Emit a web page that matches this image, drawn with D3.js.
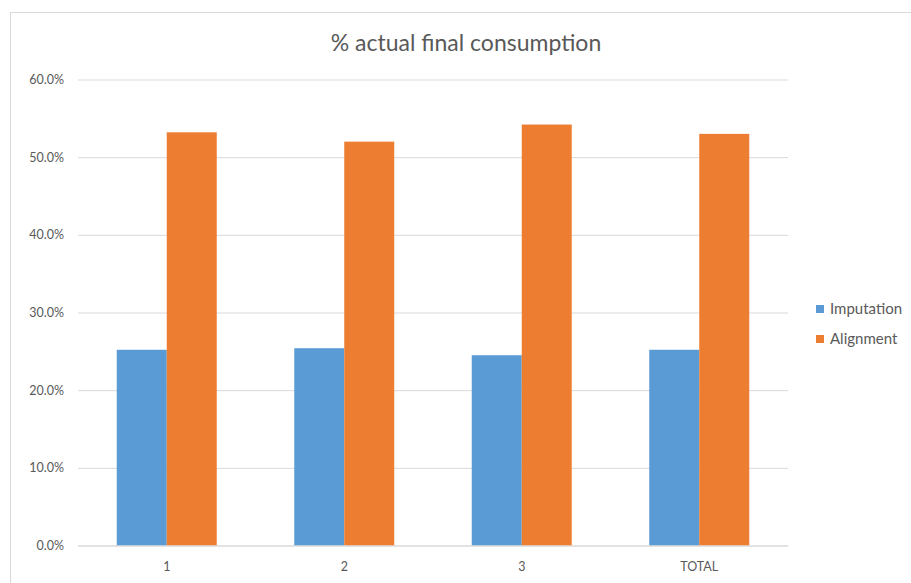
<!DOCTYPE html>
<html><head><meta charset="utf-8">
<script src="https://cdn.jsdelivr.net/npm/d3@7"></script>
<style>body{margin:0;background:#fff}svg{display:block}</style>
</head><body>
<script>
const categories = ["1", "2", "3", "TOTAL"];
const seriesNames = ["Imputation", "Alignment"];
const imputation = [0.252, 0.254, 0.245, 0.252];
const alignment = [0.532, 0.520, 0.542, 0.530];
const yTicks = [0, 0.1, 0.2, 0.3, 0.4, 0.5, 0.6];
const colors = ["#5B9BD5", "#ED7D31"];

(function () {
const W = 911, H = 583;
const svg = d3.select("body").append("svg").attr("width", W).attr("height", H);
svg.append("rect").attr("x", 10.5).attr("y", 12.5).attr("width", W).attr("height", H)
  .attr("fill", "#fff").attr("stroke", "#D9D9D9");

const pLeft = 78, pRight = 788, pTop = 79.5, pBottom = 545.5;
const x0 = d3.scaleBand().domain(categories).range([pLeft, pRight]).padding(0);
const x1 = d3.scaleBand().domain(seriesNames).range([0, x0.bandwidth()]).paddingInner(0).paddingOuter(0.775);
const y = d3.scaleLinear().domain([0, 0.6]).range([pBottom, pTop]);

const font = "Lato, 'Open Sans', sans-serif";
svg.append("text").attr("x", 466).attr("y", 51).attr("text-anchor", "middle")
  .attr("font-family", font).attr("font-size", 23).attr("fill", "#595959")
  .text("% actual final consumption");

const yAxis = d3.axisLeft(y).tickValues(yTicks).tickFormat(d3.format(".1%")).tickSize(-(pRight - pLeft)).tickPadding(14);
const gy = svg.append("g").attr("transform", `translate(${pLeft},0)`).call(yAxis);
gy.select(".domain").remove();
gy.selectAll("line").attr("stroke", "#D9D9D9").attr("stroke-width", 1);
gy.selectAll("text").attr("font-family", font).attr("font-size", 12.5).attr("fill", "#595959");

const data = categories.map((c, i) => ({c, vals: [imputation[i], alignment[i]]}));
const groups = svg.append("g").selectAll("g").data(data).join("g")
  .attr("transform", d => `translate(${x0(d.c)},0)`);
groups.selectAll("rect").data(d => d.vals.map((v, j) => ({v, s: seriesNames[j], j})))
  .join("rect")
  .attr("x", d => x1(d.s)).attr("width", x1.bandwidth())
  .attr("y", d => y(d.v)).attr("height", d => y(0) - y(d.v))
  .attr("fill", d => colors[d.j]);

const xAxis = d3.axisBottom(x0).tickSize(0).tickPadding(17);
const gx = svg.append("g").attr("transform", `translate(0,${pBottom})`).call(xAxis);
gx.select(".domain").attr("stroke", "#D9D9D9");
gx.selectAll("text").attr("font-family", font).attr("font-size", 12.5).attr("fill", "#595959");

const leg = svg.append("g").selectAll("g").data(seriesNames).join("g")
  .attr("transform", (d, i) => `translate(816,${309 + i * 30})`);
leg.append("rect").attr("x", 0).attr("y", -4).attr("width", 8).attr("height", 8).attr("fill", (d, i) => colors[i]);
leg.append("text").attr("x", 14).attr("y", 0).attr("dy", "0.35em")
  .attr("font-family", font).attr("font-size", 15).attr("fill", "#595959").text(d => d);
})();
</script>
</body></html>
